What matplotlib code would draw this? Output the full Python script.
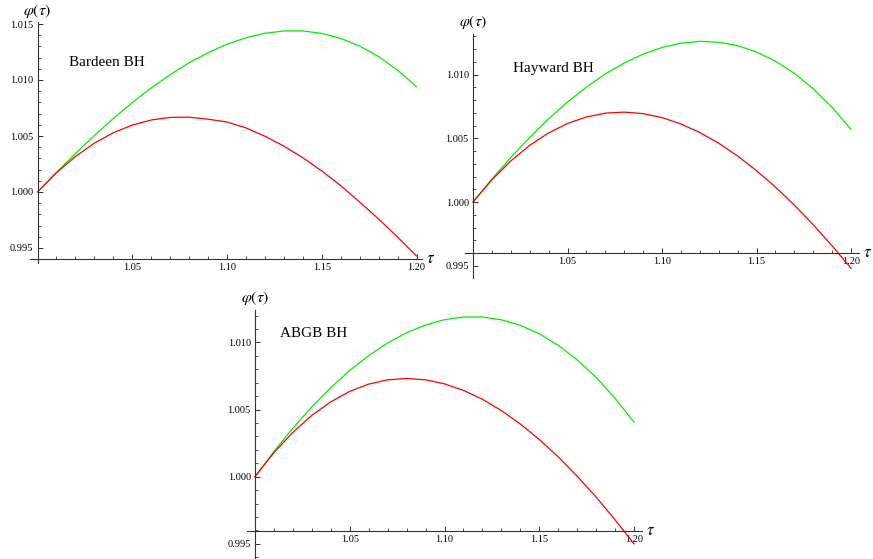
import numpy as np
from matplotlib import pyplot as plt
from matplotlib.ticker import FixedLocator, MultipleLocator, FormatStrFormatter

W, H = 873, 559

plt.rcParams['font.family'] = ['Liberation Serif', 'DejaVu Serif']
plt.rcParams['mathtext.fontset'] = 'stix'

tau = [1.00, 1.01, 1.02, 1.03, 1.04, 1.05, 1.06, 1.07, 1.08, 1.09, 1.10,
       1.11, 1.12, 1.13, 1.14, 1.15, 1.16, 1.17, 1.18, 1.19, 1.20]

bardeen_green = [1.00000, 1.00175, 1.00343, 1.00504, 1.00656, 1.00798, 1.00929,
                 1.01048, 1.01154, 1.01244, 1.01319, 1.01377, 1.01417, 1.01438,
                 1.01438, 1.01416, 1.01371, 1.01303, 1.01209, 1.01088, 1.00940]
bardeen_red = [1.00000, 1.00172, 1.00317, 1.00436, 1.00529, 1.00597, 1.00643,
               1.00666, 1.00668, 1.00650, 1.00625, 1.00572, 1.00498, 1.00410,
               1.00306, 1.00188, 1.00057, 0.99910, 0.99759, 0.99598, 0.99429]

hayward_green = [1.00000, 1.00180, 1.00349, 1.00507, 1.00652, 1.00784, 1.00901,
                 1.01004, 1.01090, 1.01160, 1.01212, 1.01246, 1.01260, 1.01253,
                 1.01226, 1.01177, 1.01105, 1.01009, 1.00888, 1.00742, 1.00570]
hayward_red = [1.00000, 1.00174, 1.00322, 1.00444, 1.00542, 1.00616, 1.00667,
               1.00697, 1.00705, 1.00693, 1.00662, 1.00612, 1.00545, 1.00461,
               1.00361, 1.00246, 1.00118, 0.99976, 0.99822, 0.99656, 0.99480]

abgb_green = [1.00000, 1.00188, 1.00362, 1.00521, 1.00664, 1.00792, 1.00902,
              1.00996, 1.01073, 1.01130, 1.01170, 1.01190, 1.01190, 1.01169,
              1.01128, 1.01065, 1.00979, 1.00871, 1.00740, 1.00585, 1.00406]
abgb_red = [1.00000, 1.00179, 1.00331, 1.00457, 1.00558, 1.00636, 1.00690,
            1.00722, 1.00732, 1.00722, 1.00692, 1.00643, 1.00577, 1.00493,
            1.00393, 1.00277, 1.00148, 1.00004, 0.99848, 0.99679, 0.99500]

x_major = [1.05, 1.10, 1.15, 1.20]


def add_panel(fig, x0, sx, y0, sy, xlim, ylim, axis_y, green, red, name, name_xy):
    """Mathematica-like panel; x0/y0 are pixel positions of tau=1, phi=1."""
    left = x0 + (xlim[0] - 1) * sx
    right = x0 + (xlim[1] - 1) * sx
    top = y0 - (ylim[1] - 1) * sy
    bottom = y0 - (ylim[0] - 1) * sy
    ax = fig.add_axes([left / W, 1 - bottom / H, (right - left) / W, (bottom - top) / H])
    ax.patch.set_visible(False)

    ax.plot(tau, green, color='#00ee00', lw=0.9, solid_joinstyle='round')
    ax.plot(tau, red, color='#ff0000', lw=0.9, solid_joinstyle='round')
    ax.set_xlim(*xlim)
    ax.set_ylim(*ylim)

    for s in ('top', 'right'):
        ax.spines[s].set_visible(False)
    ax.spines['left'].set_position(('data', 1.0))
    ax.spines['bottom'].set_position(('data', axis_y))
    for s in ('left', 'bottom'):
        ax.spines[s].set_linewidth(0.8)
        ax.spines[s].set_color('#333333')

    ax.xaxis.set_major_locator(FixedLocator(x_major))
    ax.xaxis.set_minor_locator(MultipleLocator(0.01))
    ax.xaxis.set_major_formatter(FormatStrFormatter('%.2f'))
    ax.yaxis.set_major_locator(MultipleLocator(0.005))
    ax.yaxis.set_minor_locator(MultipleLocator(0.001))
    ax.yaxis.set_major_formatter(FormatStrFormatter('%.3f'))
    ax.tick_params(which='major', direction='in', length=3.4, width=0.7,
                   color='#333333', labelsize=7.5, pad=3)
    ax.tick_params(which='minor', direction='in', length=2.0, width=0.6,
                   color='#333333')

    # axis labels sit at the ends of the axes, like Mathematica's AxesLabel
    ax.annotate(r'$\varphi(\tau)$', xy=(1.0, ylim[1]), xytext=(0, 2),
                textcoords='offset points', ha='center', va='bottom',
                fontsize=11.5, annotation_clip=False)
    ax.annotate(r'$\tau$', xy=(xlim[1], axis_y), xytext=(3, 0),
                textcoords='offset points', ha='left', va='center',
                fontsize=12, annotation_clip=False)
    ax.text(name_xy[0], name_xy[1], name, ha='left', va='center', fontsize=11)
    return ax


fig = plt.figure(figsize=(W / 100, H / 100), dpi=100)

add_panel(fig, 37.5, 1895, 192, 11200, (0.996, 1.203), (0.99365, 1.01515), 0.99402,
          bardeen_green, bardeen_red, 'Bardeen BH', (1.0166, 1.0116))
add_panel(fig, 473, 1890, 202, 12750, (0.996, 1.204), (0.99406, 1.0132), 0.996,
          hayward_green, hayward_red, 'Hayward BH', (1.0212, 1.0105))
add_panel(fig, 255, 1895, 476.7, 13420, (0.996, 1.204), (0.99387, 1.01242), 0.99594,
          abgb_green, abgb_red, 'ABGB BH', (1.0132, 1.0107))

fig.savefig('out.png', dpi=100)
